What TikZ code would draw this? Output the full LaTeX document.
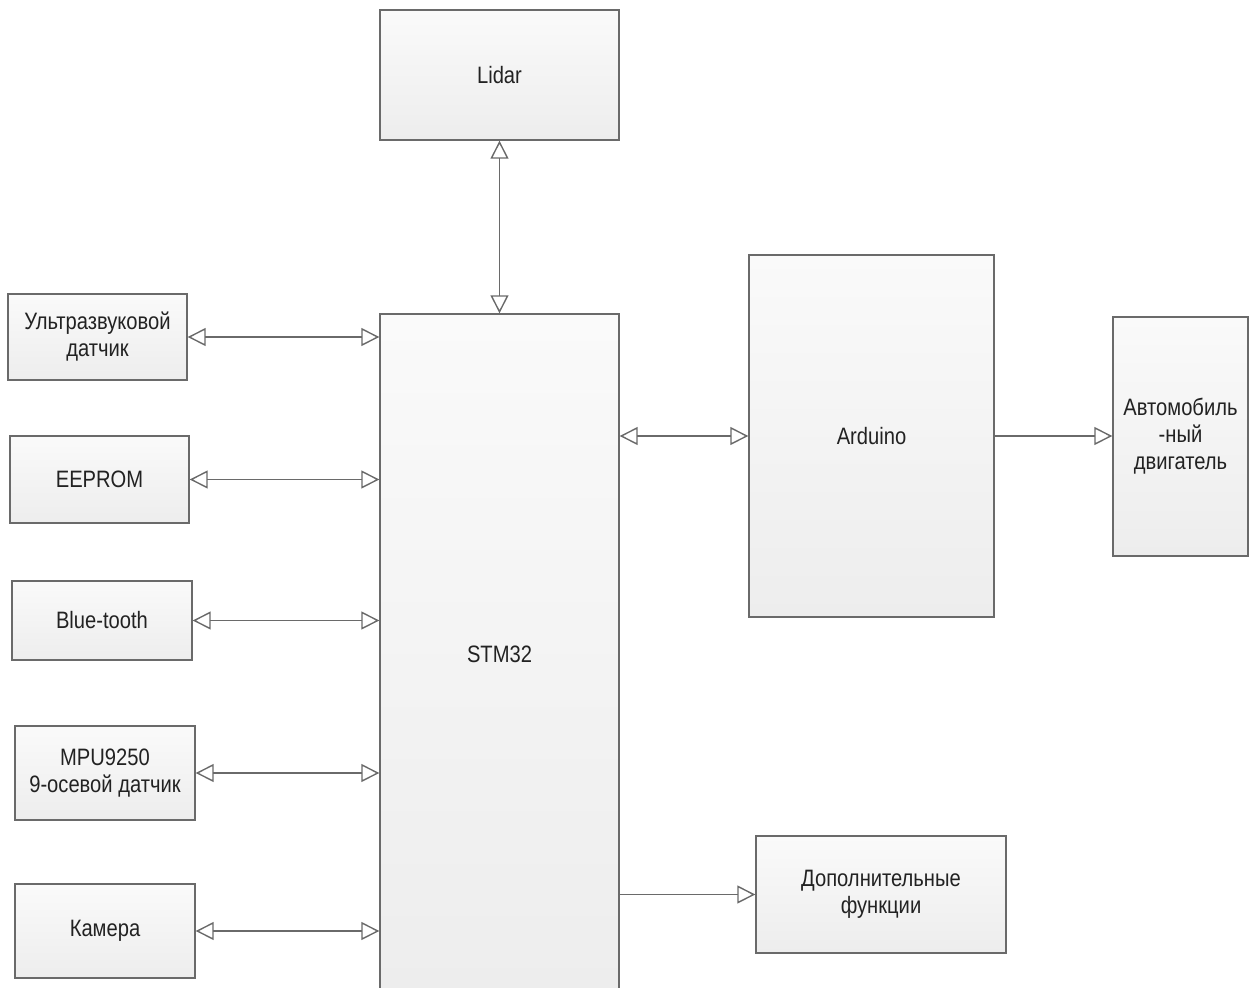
\documentclass[tikz,border=0pt]{standalone}
\usepackage{fontspec}
\setmainfont{Liberation Sans}[FakeStretch=0.85]
\usetikzlibrary{arrows.meta,shadows}
\definecolor{boxtop}{HTML}{FAFAFA}
\definecolor{boxbottom}{HTML}{EDEDED}
\definecolor{boxborder}{HTML}{6A6A6A}
\definecolor{linkline}{HTML}{6A6A6A}
\definecolor{textdark}{HTML}{222222}
\tikzset{
  block/.style={rectangle, align=center, draw=boxborder, line width=0.8pt, top color=boxtop, bottom color=boxbottom, inner sep=0pt, text=textdark, font=\fontsize{13.5}{15.4}\selectfont, drop shadow={shadow xshift=0.6pt, shadow yshift=-0.6pt, opacity=0.25}},
  link/.style={{Triangle[open, length=3.6mm, width=3.6mm]}-{Triangle[open, length=3.6mm, width=3.6mm]}, line width=0.8pt, draw=linkline},
  flow/.style={-{Triangle[open, length=3.6mm, width=3.6mm]}, line width=0.8pt, draw=linkline}
}
\begin{document}
\begin{tikzpicture}
\useasboundingbox (0,0) rectangle (25.08,-19.74);

\node[block, minimum width=4.78cm, minimum height=2.60cm] (lidar) at (9.99,-1.50) {Lidar};
% runs past the lower edge of the page
\node[block, minimum width=4.78cm, minimum height=13.60cm] (stm) at (9.99,-13.08) {STM32};

\node[block, minimum width=3.58cm, minimum height=1.72cm] (ultra) at (1.95,-6.74) {Ультразвуковой\\датчик};
\node[block, minimum width=3.58cm, minimum height=1.74cm] (eeprom) at (1.99,-9.59) {EEPROM};
\node[block, minimum width=3.60cm, minimum height=1.58cm] (bt) at (2.04,-12.41) {Blue-tooth};
\node[block, minimum width=3.60cm, minimum height=1.88cm] (mpu) at (2.10,-15.46) {MPU9250\\9-осевой датчик};
\node[block, minimum width=3.60cm, minimum height=1.88cm] (cam) at (2.10,-18.62) {Камера};

\node[block, minimum width=4.90cm, minimum height=7.24cm] (arduino) at (17.43,-8.72) {Arduino};
\node[block, minimum width=2.70cm, minimum height=4.78cm] (motor) at (23.61,-8.73) {Автомобиль\\-ный\\двигатель};
\node[block, minimum width=5.00cm, minimum height=2.34cm] (extra) at (17.62,-17.89) {Дополнительные\\функции};

\draw[link] (lidar.south) -- (stm.north);
\foreach \src in {ultra,eeprom,bt,mpu,cam} {
  \draw[link] (\src.east) -- (\src.east -| stm.west);
}
\draw[link] (arduino.west -| stm.east) -- (arduino.west);
\draw[flow] (arduino.east) -- (arduino.east -| motor.west);
\draw[flow] (extra.west -| stm.east) -- (extra.west);

\end{tikzpicture}
\end{document}
